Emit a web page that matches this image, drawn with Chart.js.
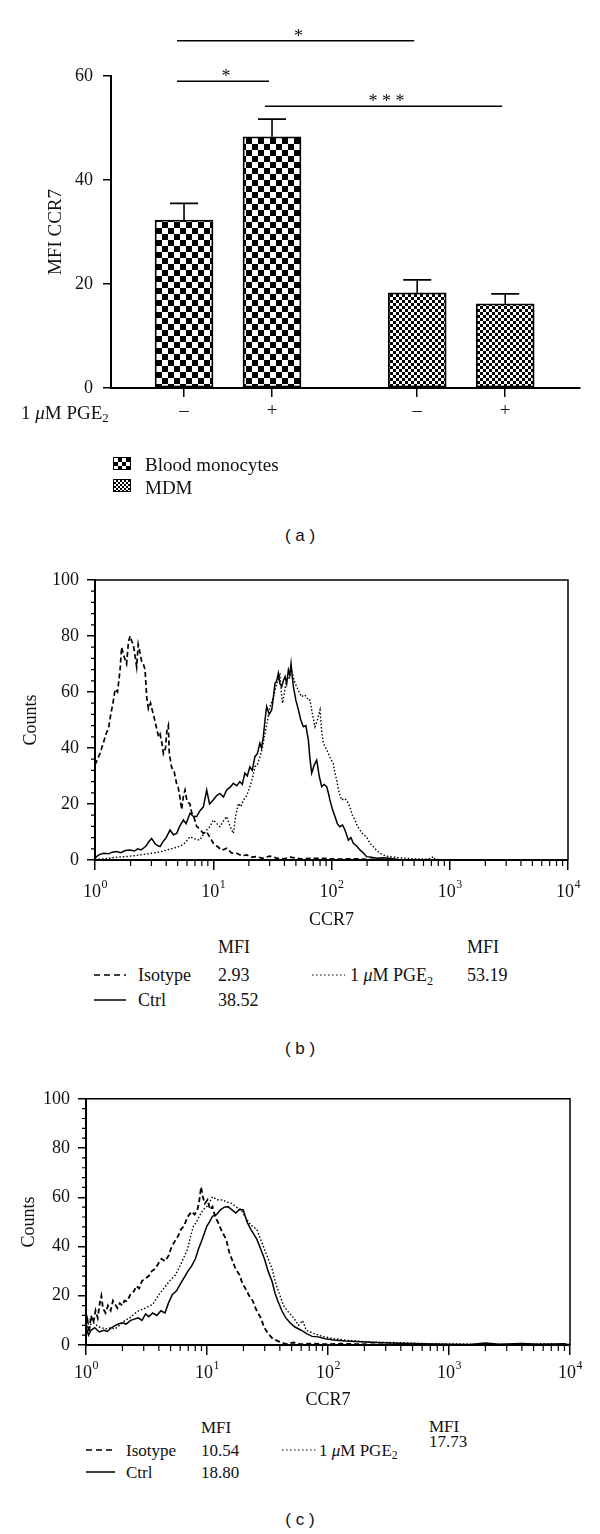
<!DOCTYPE html>
<html>
<head>
<meta charset="utf-8">
<script src="https://cdn.jsdelivr.net/npm/chart.js@4.4.1/dist/chart.umd.min.js"></script>
<style>
  body { margin: 0; background: #fff; }
  #page { position: relative; width: 600px; height: 1534px; background: #fff; font-family: 'Liberation Serif', serif; color: #111; }
  canvas { position: absolute; left: 0; }
  .t { position: absolute; line-height: 1; white-space: nowrap; transform: translateY(-50%); }
  .cap { position: absolute; left: 0; width: 600px; text-align: center; font-family: 'Liberation Sans', Arial, sans-serif; font-size: 17px; line-height: 1; transform: translateY(-50%); }
  sub { font-size: 0.68em; vertical-align: -0.3em; line-height: 0; }
  .sw { position: absolute; width: 16px; height: 11px; border: 1.5px solid #000; }
  svg.ln { position: absolute; overflow: visible; }
</style>
</head>
<body>
<div id="page">
  <canvas id="chartA" width="600" height="430" style="top:0"></canvas>
  <div class="t" style="left:21px; top:412px; font-size:19px">1 <i>μ</i>M PGE<sub>2</sub></div>
  <div class="sw" style="left:113px; top:457px; background: repeating-conic-gradient(#000 0 25%, #fff 0 50%) 0 0 / 8px 8px"></div>
  <div class="t" style="left:145px; top:464px; font-size:19px">Blood monocytes</div>
  <div class="sw" style="left:113px; top:479px; background: repeating-conic-gradient(#000 0 25%, #fff 0 50%) 0 0 / 4px 4px"></div>
  <div class="t" style="left:145px; top:487px; font-size:19px">MDM</div>
  <div class="cap" style="top:535px">( a )</div>

  <canvas id="chartB" width="600" height="375" style="top:560px"></canvas>
  <div class="t" style="left:218px; top:947px; font-size:18px">MFI</div>
  <div class="t" style="left:467px; top:947px; font-size:18px">MFI</div>
  <svg class="ln" style="left:94px; top:975px" width="32" height="1"><line x1="0" y1="0" x2="32" y2="0" stroke="#000" stroke-width="1.5" stroke-dasharray="6,4"/></svg>
  <div class="t" style="left:138px; top:975px; font-size:18px">Isotype</div>
  <div class="t" style="left:218px; top:975px; font-size:18px">2.93</div>
  <svg class="ln" style="left:312px; top:975px" width="33" height="1"><line x1="0" y1="0" x2="33" y2="0" stroke="#000" stroke-width="1.2" stroke-dasharray="1.5,2.5"/></svg>
  <div class="t" style="left:350px; top:975px; font-size:18px">1 <i>μ</i>M PGE<sub>2</sub></div>
  <div class="t" style="left:467px; top:975px; font-size:18px">53.19</div>
  <svg class="ln" style="left:94px; top:1000px" width="32" height="1"><line x1="0" y1="0" x2="32" y2="0" stroke="#000" stroke-width="1.5"/></svg>
  <div class="t" style="left:138px; top:1000px; font-size:18px">Ctrl</div>
  <div class="t" style="left:218px; top:1000px; font-size:18px">38.52</div>
  <div class="cap" style="top:1048px">( b )</div>

  <canvas id="chartC" width="600" height="335" style="top:1080px"></canvas>
  <div class="t" style="left:201px; top:1427px; font-size:17px">MFI</div>
  <div class="t" style="left:429px; top:1426px; font-size:17px">MFI</div>
  <svg class="ln" style="left:86px; top:1450px" width="29" height="1"><line x1="0" y1="0" x2="29" y2="0" stroke="#000" stroke-width="1.5" stroke-dasharray="6,4"/></svg>
  <div class="t" style="left:126px; top:1450px; font-size:17px">Isotype</div>
  <div class="t" style="left:201px; top:1450px; font-size:17px">10.54</div>
  <svg class="ln" style="left:282px; top:1450px" width="34" height="1"><line x1="0" y1="0" x2="34" y2="0" stroke="#000" stroke-width="1.2" stroke-dasharray="1.5,2.5"/></svg>
  <div class="t" style="left:319px; top:1450px; font-size:17px">1 <i>μ</i>M PGE<sub>2</sub></div>
  <div class="t" style="left:429px; top:1441px; font-size:17px">17.73</div>
  <svg class="ln" style="left:86px; top:1472px" width="29" height="1"><line x1="0" y1="0" x2="29" y2="0" stroke="#000" stroke-width="1.5"/></svg>
  <div class="t" style="left:126px; top:1472px; font-size:17px">Ctrl</div>
  <div class="t" style="left:201px; top:1472px; font-size:17px">18.80</div>
  <div class="cap" style="top:1519px">( c )</div>
</div>

<script>
// ---- panel (a): MFI of CCR7 ----
const groups = ['Blood monocytes', 'Blood monocytes', 'MDM', 'MDM'];
const pgeSigns = ['\u2013', '+', '\u2013', '+'];
const mfiMeans = [32.3, 48.3, 18.3, 16.2];
const mfiErrors = [3.2, 3.4, 2.5, 1.9];
// [from bar, to bar, mark, height on the MFI scale]
const sigTests = [[0, 2, '*', 66.8], [0, 1, '*', 59.0], [1, 3, '* * *', 54.2]];
const yTicksA = [0, 20, 40, 60];

// ---- panels (b) and (c): histograms, [CCR7 channel, counts] ----
const yTicksHist = [0, 20, 40, 60, 80, 100];
const decades = [0, 1, 2, 3, 4];

const isotypeB = [
  [1.00, 34], [1.05, 36], [1.10, 38], [1.18, 42], [1.24, 45], [1.30, 47], [1.36, 52], [1.43, 57],
  [1.48, 61], [1.55, 60], [1.63, 68], [1.68, 76], [1.75, 73], [1.85, 70], [1.92, 78], [1.98, 80],
  [2.05, 78], [2.11, 77], [2.18, 73], [2.25, 69], [2.32, 77], [2.40, 74], [2.48, 71], [2.56, 70],
  [2.65, 68], [2.74, 58], [2.83, 54], [2.95, 56], [3.11, 52], [3.20, 50], [3.32, 47], [3.45, 44],
  [3.55, 45], [3.67, 42], [3.79, 38], [3.95, 40], [4.05, 46], [4.17, 48], [4.25, 38], [4.45, 33],
  [4.65, 32], [4.91, 27], [5.05, 26], [5.24, 22], [5.41, 18], [5.60, 23], [5.77, 25], [6.00, 21],
  [6.36, 20], [6.56, 17], [6.90, 15], [7.24, 12], [7.70, 11], [8.25, 9.5], [8.80, 10], [9.40, 8],
  [10.0, 6], [10.7, 5], [11.8, 3.5], [13.0, 4.2], [14.3, 2.5], [15.8, 2.4], [17.5, 1.5], [19.2, 1.8],
  [21, 1], [23.3, 1.2], [26, 0.6], [30, 1.4], [35, 0.6], [40, 0.4], [44.7, 1], [55, 0.4],
  [70, 0.6], [85, 0.6], [110, 0.3], [140, 0.4], [163, 0.4], [220, 0.2], [316, 0.2], [450, 0], [10000, 0]
];
const ctrlB = [
  [1.00, 0.6], [1.05, 1.5], [1.10, 2.0], [1.18, 2.4], [1.30, 2.2], [1.40, 2.8], [1.52, 3], [1.65, 2.6],
  [1.80, 3.4], [1.98, 3.6], [2.15, 3.2], [2.30, 4.0], [2.45, 3.6], [2.56, 4.2], [2.70, 5.0], [2.85, 6.5],
  [3.01, 7.7], [3.20, 6.0], [3.35, 5.2], [3.55, 4.8], [3.75, 6.5], [4.00, 8.0], [4.31, 10.7], [4.60, 9.0],
  [4.91, 9.5], [5.20, 12], [5.59, 14.3], [5.90, 13], [6.36, 16.7], [6.80, 15.5], [7.24, 15.5], [7.70, 17.5],
  [8.25, 19], [8.80, 25], [9.30, 20], [10.0, 21.4], [10.7, 23], [11.4, 23.8], [12.2, 22.5], [13.0, 25],
  [13.9, 26], [14.8, 27.4], [15.8, 26.5], [16.8, 28], [17.6, 27], [18.5, 31], [19.4, 30], [20.4, 33.3],
  [21.4, 32], [22.5, 36.9], [23.6, 38], [24.8, 41.7], [25.6, 40], [26.5, 44], [27.4, 50], [28.3, 54.8],
  [29.7, 52], [31.2, 53.6], [32.2, 58], [33.3, 63.1], [34.4, 64], [35.5, 66.7], [36.6, 63], [37.9, 61.9],
  [39.2, 64], [40.5, 65.5], [41.8, 63], [43.2, 67.9], [44.4, 66], [45.5, 70.2], [46.5, 66], [47.6, 61.9],
  [50, 57], [52.5, 53.6], [55, 50], [57.8, 47.6], [60.7, 48], [63.7, 42.9], [65.8, 36], [68, 31],
  [71.5, 34], [75, 35.7], [78.7, 30], [82.6, 26.2], [86.7, 27], [91, 26.2], [94, 24], [97, 21.4],
  [102, 18], [107, 15.5], [112, 13], [117.5, 11.9], [124, 12.5], [130, 10.7], [139, 7.1], [146, 8],
  [153, 6], [163, 5], [174, 3.6], [186, 2.5], [198, 1.2], [218, 1], [240, 0.6], [275, 0.8],
  [312, 0.6], [360, 0.2], [450, 0], [10000, 0]
];
const pgeB = [
  [1.00, 0.2], [1.2, 0.4], [1.5, 1], [1.8, 1.2], [2.2, 1.6], [2.6, 2], [3.0, 2.4], [3.5, 2.8],
  [4.0, 3.5], [4.6, 4.2], [5.3, 5], [5.8, 6.2], [6.36, 8.3], [7.0, 7.5], [7.7, 7.1], [8.2, 9],
  [8.8, 10.7], [9.4, 12], [10, 14.3], [10.7, 13], [11.4, 11.9], [12.2, 14], [13, 15.5], [13.9, 12],
  [14.8, 9.5], [15.5, 16], [16.3, 20.2], [17.1, 19], [18, 21.4], [19.2, 23], [20.4, 26.2], [21.4, 29],
  [22.5, 33.3], [23.6, 34], [24.8, 36.9], [26, 40], [27.4, 45.2], [28.8, 50], [30.2, 54.8], [32.2, 58],
  [34.4, 63.1], [35.5, 64], [36.6, 66.7], [37.6, 60], [38.6, 56], [40, 60], [41.7, 64.3], [43.8, 65],
  [46, 67.9], [48.3, 64], [50.7, 61.9], [53.3, 60], [56, 58.3], [58.8, 59], [61.7, 58.3], [63.7, 57],
  [65.8, 57.1], [69, 52], [72.5, 47.6], [76, 50], [80, 53.6], [82.5, 46], [85.3, 41.7], [89.5, 40],
  [94, 38.1], [98.6, 36], [103.5, 34.5], [107, 31], [110.6, 28.6], [116, 24], [122, 21.4], [128, 22],
  [134, 21.4], [143, 19], [150, 16], [158, 14.3], [166, 12], [174, 10.7], [186, 9], [198, 8.3],
  [211, 6], [225, 4.8], [240, 3.5], [257, 2.4], [285, 1.5], [312, 1.2], [370, 0.8], [431, 0.6],
  [520, 0.4], [620, 0.3], [700, 0.6], [725, 1.2], [750, 0.3], [900, 0], [10000, 0]
];

const isotypeC = [
  [1.00, 6], [1.03, 10], [1.06, 5], [1.10, 12], [1.15, 9], [1.20, 14], [1.25, 11], [1.30, 17],
  [1.34, 20], [1.38, 15], [1.45, 13], [1.52, 16], [1.60, 14], [1.67, 18], [1.74, 16.5], [1.82, 15],
  [1.90, 17], [2.00, 16], [2.08, 18], [2.16, 17.8], [2.25, 19], [2.35, 21], [2.49, 21.8], [2.60, 24],
  [2.75, 23], [2.90, 26], [3.11, 27.1], [3.30, 28], [3.50, 30], [3.73, 31], [3.95, 33], [4.20, 35],
  [4.50, 34], [4.82, 36.4], [5.10, 40], [5.40, 42], [5.78, 44.3], [6.10, 47], [6.45, 48.3], [6.90, 52],
  [7.46, 54.2], [7.90, 53], [8.30, 54.6], [8.60, 58], [8.94, 64.2], [9.25, 60], [9.60, 57.5], [10.1, 59],
  [10.6, 55], [11.1, 56.2], [11.7, 52], [12.4, 49.6], [13.3, 46], [14.4, 43], [15.2, 38], [16.0, 35],
  [17.2, 31], [18.6, 28.4], [19.6, 25], [20.7, 23.1], [22.3, 20], [23.9, 17.9], [25.7, 14], [27.7, 11.2],
  [29.8, 7], [32, 4.6], [35, 2.5], [39.8, 1.3], [45, 0.4], [52, 1], [60, 0.3], [75, 0.6],
  [95, 0.3], [130, 0.5], [200, 0.3], [400, 0.2], [800, 0.1], [10000, 0]
];
const ctrlC = [
  [1.00, 7.3], [1.05, 4], [1.10, 6], [1.18, 7], [1.29, 5.3], [1.40, 6], [1.50, 5.5], [1.62, 7],
  [1.74, 7.9], [1.85, 8.5], [2.00, 9], [2.15, 8.5], [2.32, 9.9], [2.50, 10.5], [2.70, 11], [2.90, 10],
  [3.11, 12.6], [3.30, 11.5], [3.56, 13], [3.85, 12], [4.16, 13.9], [4.50, 13], [4.80, 17], [5.18, 20.5],
  [5.60, 22], [5.98, 24.5], [6.40, 27], [6.92, 29.8], [7.45, 32], [8.02, 35], [8.50, 39], [8.94, 41.7],
  [9.45, 45], [9.98, 48.3], [10.5, 50], [11.1, 52.3], [12.0, 53], [12.9, 54.9], [13.9, 56], [14.9, 56.2],
  [16.0, 55], [17.3, 53.6], [18.5, 55], [19.9, 54.9], [21.4, 50], [23.1, 46.9], [25.8, 43], [27.8, 39],
  [29.8, 35], [32, 30], [34.5, 25.8], [36.5, 21], [38.5, 17.9], [41.5, 14], [44.5, 11.2], [48.5, 9],
  [53.3, 7.3], [60, 6], [66.4, 4.6], [74, 3.5], [82.6, 3.3], [95, 2.5], [111, 2], [140, 1.6],
  [186, 1.3], [250, 1], [390, 0.7], [600, 0.5], [900, 0.3], [1500, 0.2], [2000, 0.8], [2600, 0.3],
  [4000, 0.6], [5500, 0.3], [9000, 0.5], [10000, 0]
];
const pgeC = [
  [1.00, 10], [1.06, 8], [1.15, 9], [1.29, 7.3], [1.45, 6.5], [1.60, 7], [1.74, 6.6], [1.90, 8],
  [2.10, 10], [2.30, 11], [2.49, 12.6], [2.75, 14], [3.10, 15], [3.56, 16.5], [3.95, 20], [4.41, 23.1],
  [4.90, 26], [5.48, 28.4], [6.10, 33], [6.92, 39], [7.30, 44], [7.73, 48.3], [8.20, 50], [8.63, 52.3],
  [9.30, 55], [9.98, 56.2], [10.5, 58], [11.1, 60.2], [12.2, 59], [13.4, 58.9], [14.7, 58], [16.0, 57.5],
  [17.5, 56], [19.2, 54.9], [20.7, 52], [22.3, 49.6], [24.0, 48], [25.8, 47], [27.7, 43], [29.8, 39],
  [32, 35], [34.5, 31], [37, 25], [39.8, 20.5], [43, 16], [46.1, 13.9], [52, 11], [57, 8],
  [61.8, 9.9], [66, 6], [76.9, 4.6], [90, 3.5], [111, 2.6], [150, 1.8], [220, 1.2], [350, 1],
  [600, 0.6], [1000, 0.4], [3000, 0.3], [6000, 0.5], [10000, 0.2]
];

// ---- layout / style ----
const SERIF = "'Liberation Serif', serif";
const barGap = 0.65;           // extra space between the two cell types
const barPos = mfiMeans.map((_, i) => i + 1 + (i >= 2 ? barGap : 0));
const yMinorStep = 4;

function checker(ctx, size) {
  const c = document.createElement('canvas');
  c.width = c.height = size * 2;
  const g = c.getContext('2d');
  g.fillStyle = '#fff';
  g.fillRect(0, 0, size * 2, size * 2);
  g.fillStyle = '#000';
  g.fillRect(0, 0, size, size);
  g.fillRect(size, size, size, size);
  return ctx.createPattern(c, 'repeat');
}

// error bars + significance brackets for panel (a)
const errorBars = {
  id: 'errorBars',
  afterDatasetsDraw(chart) {
    const {ctx, scales: {x, y}} = chart;
    ctx.save();
    ctx.strokeStyle = '#000';
    ctx.lineWidth = 1.6;
    mfiMeans.forEach((m, i) => {
      const px = x.getPixelForValue(barPos[i]);
      const y0 = y.getPixelForValue(m);
      const y1 = y.getPixelForValue(m + mfiErrors[i]);
      ctx.beginPath();
      ctx.moveTo(px, y0); ctx.lineTo(px, y1);
      ctx.moveTo(px - 14, y1); ctx.lineTo(px + 14, y1);
      ctx.stroke();
    });
    ctx.lineWidth = 1.5;
    ctx.fillStyle = '#111';
    ctx.font = '18px ' + SERIF;
    ctx.textAlign = 'center';
    ctx.textBaseline = 'alphabetic';
    sigTests.forEach(([i, j, mark, level]) => {
      const x1 = x.getPixelForValue(barPos[i]) - 7;
      const x2 = x.getPixelForValue(barPos[j]) - 3;
      const py = y.getPixelForValue(level);
      ctx.beginPath();
      ctx.moveTo(x1, py); ctx.lineTo(x2, py);
      ctx.stroke();
      ctx.fillText(mark, (x1 + x2) / 2 + 3, py + 1);
    });
    ctx.restore();
  }
};

// frame, minor ticks and 10^n labels for the histograms
const histAxes = {
  id: 'histAxes',
  afterDraw(chart, args, opts) {
    const {ctx, chartArea: a, scales: {x, y}} = chart;
    ctx.save();
    ctx.strokeStyle = '#000';
    ctx.lineWidth = 1.5;
    ctx.beginPath();
    ctx.moveTo(a.left, a.top); ctx.lineTo(a.right, a.top); ctx.lineTo(a.right, a.bottom);
    ctx.stroke();

    ctx.lineWidth = 1.2;
    ctx.beginPath();
    for (let e = 0; e < decades.length - 1; e++) {
      for (let m = 2; m < 10; m++) {
        const px = x.getPixelForValue(m * 10 ** decades[e]);
        ctx.moveTo(px, a.bottom); ctx.lineTo(px, a.bottom + 6);
      }
    }
    for (let v = yMinorStep; v < 100; v += yMinorStep) {
      if (v % 20 === 0) continue;
      const py = y.getPixelForValue(v);
      ctx.moveTo(a.left - 4, py); ctx.lineTo(a.left, py);
    }
    ctx.stroke();

    ctx.fillStyle = '#111';
    ctx.textBaseline = 'middle';
    ctx.textAlign = 'left';
    const cy = a.bottom + opts.labelGap;
    decades.forEach(e => {
      const px = x.getPixelForValue(10 ** e);
      ctx.font = '18px ' + SERIF;
      const wb = ctx.measureText('10').width;
      ctx.font = '12px ' + SERIF;
      const we = ctx.measureText(String(e)).width;
      const x0 = px - (wb + we) / 2;
      ctx.font = '18px ' + SERIF;
      ctx.fillText('10', x0, cy);
      ctx.font = '12px ' + SERIF;
      ctx.fillText(String(e), x0 + wb + 0.5, cy - 7);
    });
    ctx.restore();
  }
};

// ---- panel (a) ----
const ctxA = document.getElementById('chartA').getContext('2d');
const bmPattern = checker(ctxA, 6);
const mdmPattern = checker(ctxA, 3);

new Chart(ctxA, {
  type: 'bar',
  data: {
    datasets: [{
      data: mfiMeans.map((v, i) => ({x: barPos[i], y: v})),
      backgroundColor: groups.map(g => g === 'MDM' ? mdmPattern : bmPattern),
      borderColor: '#000',
      borderWidth: 1.8,
      borderSkipped: false,
      barThickness: 58
    }]
  },
  options: {
    responsive: false,
    animation: false,
    devicePixelRatio: 1,
    layout: {padding: {top: 76, right: 20, left: 0, bottom: 0}},
    plugins: {legend: {display: false}, tooltip: {enabled: false}},
    scales: {
      x: {
        type: 'linear', min: 0.17, max: 5.5, offset: false,
        afterFit: s => { s.height = 42; },
        afterBuildTicks: s => { s.ticks = barPos.map(v => ({value: v})); },
        ticks: {callback: (v, i) => pgeSigns[i], font: {family: SERIF, size: 19}, color: '#111', padding: 3, autoSkip: false, maxRotation: 0},
        grid: {offset: false, drawOnChartArea: false, tickLength: 9, color: '#000', lineWidth: 1.5},
        border: {color: '#000', width: 2}
      },
      y: {
        min: 0, max: 60,
        afterFit: s => { s.width = 111; },
        afterBuildTicks: s => { s.ticks = yTicksA.map(v => ({value: v})); },
        ticks: {font: {family: SERIF, size: 18}, color: '#111', padding: 10},
        grid: {drawOnChartArea: false, tickLength: 8, color: '#000', lineWidth: 1.5},
        border: {color: '#000', width: 2},
        title: {display: true, text: 'MFI CCR7', font: {family: SERIF, size: 19}, color: '#111', padding: {top: 45}}
      }
    }
  },
  plugins: [errorBars]
});

// ---- panels (b) and (c) ----
function histChart(id, series, o) {
  return new Chart(document.getElementById(id), {
    type: 'line',
    data: {
      datasets: series.map(s => ({
        data: s.points.map(([x, y]) => ({x, y})),
        borderColor: '#000',
        borderWidth: s.width,
        borderDash: s.dash,
        pointRadius: 0,
        fill: false,
        tension: 0
      }))
    },
    options: {
      responsive: false,
      animation: false,
      devicePixelRatio: 1,
      layout: {padding: {top: o.top, right: o.right, left: 0, bottom: 0}},
      plugins: {legend: {display: false}, tooltip: {enabled: false}, histAxes: {labelGap: o.labelGap}},
      scales: {
        x: {
          type: 'logarithmic', min: 1, max: 10000,
          afterFit: s => { s.height = o.xHeight; },
          afterBuildTicks: s => { s.ticks = decades.map(e => ({value: 10 ** e})); },
          ticks: {callback: () => '', autoSkip: false, maxRotation: 0},
          grid: {drawOnChartArea: false, tickLength: 10, color: '#000', lineWidth: 1.5},
          border: {color: '#000', width: 2},
          title: {display: true, text: 'CCR7', font: {family: SERIF, size: 18}, color: '#111', padding: {top: 0, bottom: 4}}
        },
        y: {
          min: 0, max: 100,
          afterFit: s => { s.width = o.left; },
          afterBuildTicks: s => { s.ticks = yTicksHist.map(v => ({value: v})); },
          ticks: {font: {family: SERIF, size: 18}, color: '#111', padding: 8},
          grid: {drawOnChartArea: false, tickLength: 8, color: '#000', lineWidth: 1.5},
          border: {color: '#000', width: 2},
          title: {display: true, text: 'Counts', font: {family: SERIF, size: 18}, color: '#111', padding: {top: o.yTitlePad, bottom: 0}}
        }
      }
    },
    plugins: [histAxes]
  });
}

histChart('chartB', [
  {points: isotypeB, width: 1.7, dash: [5, 3]},
  {points: pgeB, width: 1.4, dash: [1.5, 2]},
  {points: ctrlB, width: 1.5, dash: []}
], {top: 20, right: 32, left: 95, xHeight: 75, labelGap: 32, yTitlePad: 20});

histChart('chartC', [
  {points: isotypeC, width: 1.8, dash: [5, 3]},
  {points: pgeC, width: 1.4, dash: [1.5, 2]},
  {points: ctrlC, width: 1.5, dash: []}
], {top: 13, right: 30, left: 86, xHeight: 70, labelGap: 28, yTitlePad: 18});
</script>
</body>
</html>
